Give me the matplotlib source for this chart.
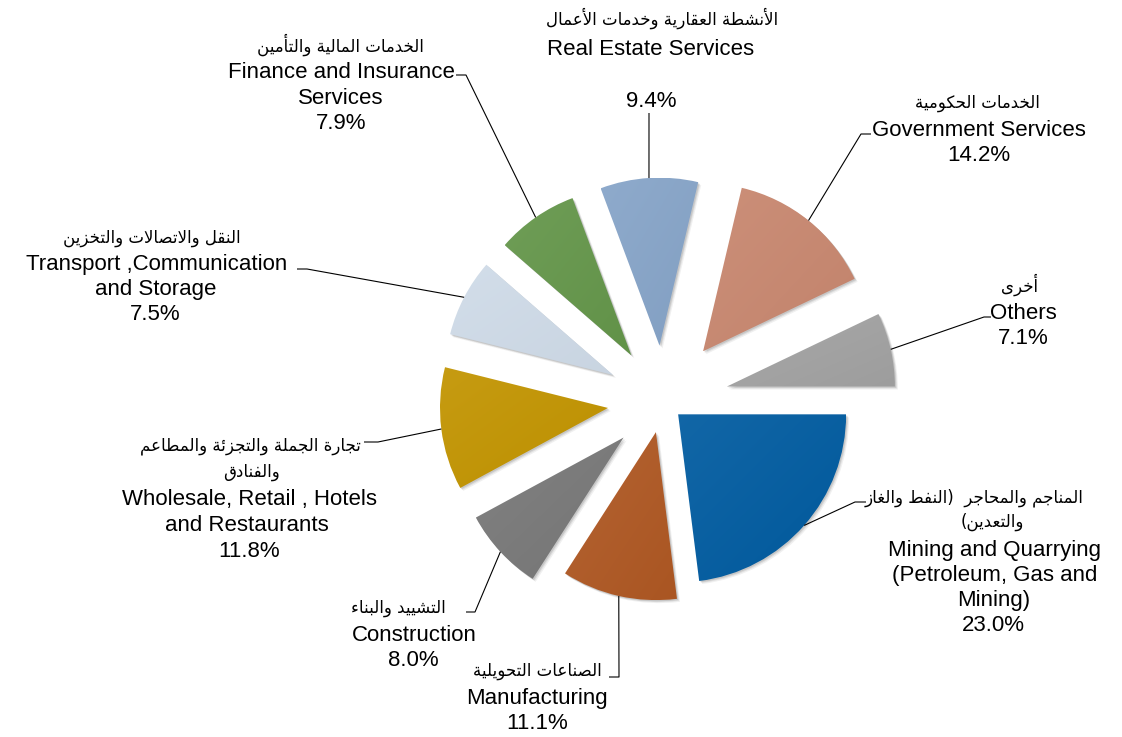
import numpy as np
import matplotlib
matplotlib.use("Agg")
import matplotlib.pyplot as plt
from matplotlib.patches import Wedge
from matplotlib.colors import to_rgb

# ---------------- data ----------------
sectors_en = ["Mining and Quarrying\n(Petroleum, Gas and\nMining)", "Manufacturing", "Construction",
              "Wholesale, Retail , Hotels\nand Restaurants", "Transport ,Communication\nand Storage",
              "Finance and Insurance\nServices", "Real Estate Services", "Government Services", "Others"]
sectors_ar = ["المناجم والمحاجر  (النفط والغاز\nوالتعدين)", "الصناعات التحويلية", "التشييد والبناء",
              "تجارة الجملة والتجزئة والمطاعم\nوالفنادق", "النقل والاتصالات والتخزين",
              "الخدمات المالية والتأمين", "الأنشطة العقارية وخدمات الأعمال", "الخدمات الحكومية", "أخرى"]
shares = [23.0, 11.1, 8.0, 11.8, 7.5, 7.9, 9.4, 14.2, 7.1]
colors = ["#005BA0", "#AF5823", "#787878", "#C29400", "#CFDBE8", "#64964A", "#86A4C8", "#C8876F", "#A2A2A2"]
explode = [0.12, 0.19, 0.32, 0.33, 0.335, 0.33, 0.33, 0.38, 0.39]

# ---------------- simple Arabic shaping ----------------
AR = {0x621: (0xFE80, 1), 0x622: (0xFE81, 2), 0x623: (0xFE83, 2), 0x624: (0xFE85, 2), 0x625: (0xFE87, 2),
      0x626: (0xFE89, 4), 0x627: (0xFE8D, 2), 0x628: (0xFE8F, 4), 0x629: (0xFE93, 2), 0x62A: (0xFE95, 4),
      0x62B: (0xFE99, 4), 0x62C: (0xFE9D, 4), 0x62D: (0xFEA1, 4), 0x62E: (0xFEA5, 4), 0x62F: (0xFEA9, 2),
      0x630: (0xFEAB, 2), 0x631: (0xFEAD, 2), 0x632: (0xFEAF, 2), 0x633: (0xFEB1, 4), 0x634: (0xFEB5, 4),
      0x635: (0xFEB9, 4), 0x636: (0xFEBD, 4), 0x637: (0xFEC1, 4), 0x638: (0xFEC5, 4), 0x639: (0xFEC9, 4),
      0x63A: (0xFECD, 4), 0x641: (0xFED1, 4), 0x642: (0xFED5, 4), 0x643: (0xFED9, 4), 0x644: (0xFEDD, 4),
      0x645: (0xFEE1, 4), 0x646: (0xFEE5, 4), 0x647: (0xFEE9, 4), 0x648: (0xFEED, 2), 0x649: (0xFEEF, 2),
      0x64A: (0xFEF1, 4)}
LAMALEF = {0x622: 0xFEF5, 0x623: 0xFEF7, 0x625: 0xFEF9, 0x627: 0xFEFB}


def shape_ar(s):
    toks = []
    i = 0
    while i < len(s):
        c = ord(s[i])
        if c == 0x644 and i + 1 < len(s) and ord(s[i + 1]) in LAMALEF:
            toks.append(("LA", ord(s[i + 1])))
            i += 2
        else:
            toks.append(c)
            i += 1

    def nf(t):
        if isinstance(t, tuple):
            return 2
        return AR[t][1] if t in AR else 0

    out = []
    for k, t in enumerate(toks):
        prev = toks[k - 1] if k > 0 else None
        nxt = toks[k + 1] if k + 1 < len(toks) else None
        n = nf(t)
        if n == 0:
            out.append(chr(t))
            continue
        jp = prev is not None and nf(prev) == 4 and n >= 2
        jn = nxt is not None and n == 4 and nf(nxt) >= 2
        if isinstance(t, tuple):
            out.append(chr(LAMALEF[t[1]] + (1 if jp else 0)))
            continue
        start = AR[t][0]
        if n == 1:
            idx = 0
        elif n == 2:
            idx = 1 if jp else 0
        else:
            idx = {(False, False): 0, (True, False): 1, (False, True): 2, (True, True): 3}[(jp, jn)]
        out.append(chr(start + idx))
    res = "".join(out)[::-1]
    return res.translate(str.maketrans("()", ")("))


# ---------------- layout (pixel coordinates) ----------------
W, H = 1122, 737
CX, CY, R = 663, 401, 168

fig = plt.figure(figsize=(W / 100, H / 100), dpi=100)
ax = fig.add_axes([0, 0, 1, 1])


def P(px, py):
    return ((px - CX) / R, (CY - py) / R)


wedges, _ = ax.pie(shares, explode=explode, startangle=0, counterclock=False, radius=1,
                   colors=colors, wedgeprops=dict(linewidth=0))
ax.set_aspect("auto")
ax.axis("off")


def mix(c, other, t):
    c = np.array(to_rgb(c)); o = np.array(other)
    return c * (1 - t) + o * t


for w, col in zip(wedges, colors):
    # soft shadow
    for k, a in ((3.0, 0.06), (2.0, 0.08), (1.2, 0.10)):
        sh = Wedge((w.center[0] + k / R, w.center[1] - k / R), w.r, w.theta1, w.theta2,
                   facecolor="#000000", alpha=a, linewidth=0, zorder=1)
        ax.add_patch(sh)
    w.set_facecolor("none")
    w.set_zorder(2)
    ext = w.get_path().get_extents()
    n = 200
    u = np.linspace(0, 1, n)
    U, V = np.meshgrid(u, u)
    t = (U + (1 - V)) / 2.0
    top = mix(col, (1, 1, 1), 0.07)
    bot = mix(col, (0, 0, 0), 0.03)
    img = top[None, None, :] * (1 - t[..., None]) + bot[None, None, :] * t[..., None]
    im = ax.imshow(img, extent=[ext.x0, ext.x1, ext.y0, ext.y1], origin="lower",
                   interpolation="bilinear", zorder=2, aspect="auto")
    im.set_clip_path(w)

ax.set_xlim((0 - CX) / R, (W - CX) / R)
ax.set_ylim((CY - H) / R, CY / R)

# label layout in pixels: centres of each text line, leader elbow and end
label_layout = [
    dict(ar=[(974, 497), (992, 521)], en=[(994, 548), (995, 573), (994, 598)], pct=(993, 623),
         elbow=(855, 502), end=(866, 502)),
    dict(ar=[(537, 670)], en=[(537, 696)], pct=(537, 721), elbow=(619, 677), end=(609, 677)),
    dict(ar=[(398, 607)], en=[(414, 633)], pct=(413, 658), elbow=(475, 612), end=(466, 612)),
    dict(ar=[(250, 445), (252, 471)], en=[(249, 497), (247, 523)], pct=(249, 549),
         elbow=(378, 442), end=(364, 442)),
    dict(ar=[(152, 237)], en=[(157, 262), (156, 287)], pct=(155, 312), elbow=(307, 269), end=(297, 269)),
    dict(ar=[(340, 44)], en=[(341, 70), (341, 96)], pct=(341, 121), elbow=(466, 75), end=(456, 75)),
    dict(ar=[(662, 17)], en=[(651, 47)], pct=(651, 99), elbow=(649, 113), end=(649, 113)),
    dict(ar=[(977, 102)], en=[(979, 128)], pct=(979, 153), elbow=(861, 134), end=(871, 134)),
    dict(ar=[(1020, 284)], en=[(1023, 311)], pct=(1023, 336), elbow=(984, 317), end=(991, 317)),
]

EN_DY = 2.5
AR_DY = 1.0
EN_FONT = ["Liberation Sans", "DejaVu Sans"]
for w, en, ar, v, lay in zip(wedges, sectors_en, sectors_ar, shares, label_layout):
    for line, (px, py) in zip(ar.split("\n"), lay["ar"]):
        ax.text(*P(px, py + AR_DY), shape_ar(line), ha="center", va="center", fontsize=12,
                family="DejaVu Sans", color="black", zorder=5)
    for line, (px, py) in zip(en.split("\n"), lay["en"]):
        ax.text(*P(px, py + EN_DY), line, ha="center", va="center", fontsize=16, family=EN_FONT,
                color="black", zorder=5)
    px, py = lay["pct"]
    ax.text(*P(px, py + EN_DY), f"{v:.1f}%", ha="center", va="center", fontsize=16, family=EN_FONT,
            color="black", zorder=5)
    # leader line from arc midpoint
    th = np.deg2rad((w.theta1 + w.theta2) / 2)
    sx = w.center[0] + w.r * np.cos(th)
    sy = w.center[1] + w.r * np.sin(th)
    ex, ey = P(*lay["elbow"])
    fx, fy = P(*lay["end"])
    ax.plot([sx, ex, fx], [sy, ey, fy], color="black", lw=0.8, zorder=4, solid_capstyle="butt")

fig.savefig("out.png", dpi=100, facecolor="white")
